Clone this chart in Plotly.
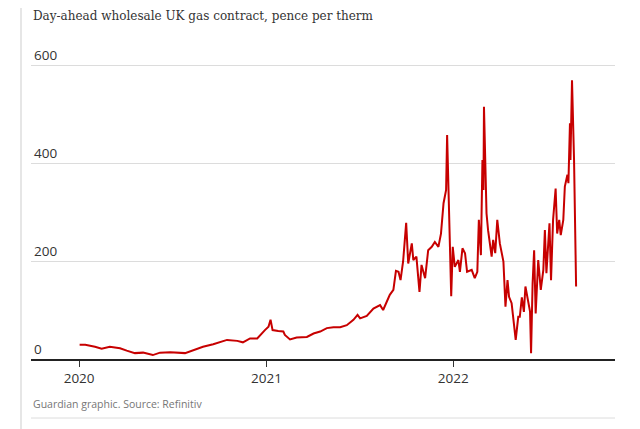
import plotly.graph_objects as go

dates = [
    "2020-01-02", "2020-01-13", "2020-02-01", "2020-02-14", "2020-03-01", "2020-03-21",
    "2020-04-03", "2020-04-19", "2020-05-05", "2020-05-24", "2020-06-07", "2020-06-27",
    "2020-07-26", "2020-08-11", "2020-08-30", "2020-09-19", "2020-10-16", "2020-11-05",
    "2020-11-16", "2020-11-30", "2020-12-14", "2020-12-29", "2021-01-05", "2021-01-09",
    "2021-01-13", "2021-01-24", "2021-02-03", "2021-02-06", "2021-02-16", "2021-03-01",
    "2021-03-21", "2021-04-03", "2021-04-16", "2021-04-29", "2021-05-12", "2021-05-25",
    "2021-06-07", "2021-06-20", "2021-06-28", "2021-07-03", "2021-07-16", "2021-07-29",
    "2021-08-11", "2021-08-17", "2021-08-24", "2021-08-30", "2021-09-06", "2021-09-11",
    "2021-09-16", "2021-09-20", "2021-09-25", "2021-10-01", "2021-10-05", "2021-10-12",
    "2021-10-15", "2021-10-21", "2021-10-27", "2021-10-31", "2021-11-07", "2021-11-13",
    "2021-11-20", "2021-11-26", "2021-12-03", "2021-12-08", "2021-12-13", "2021-12-18",
    "2021-12-20", "2021-12-23", "2021-12-28", "2021-12-31", "2022-01-04", "2022-01-11",
    "2022-01-14", "2022-01-19", "2022-01-24", "2022-01-28", "2022-02-06", "2022-02-12",
    "2022-02-17", "2022-02-20", "2022-02-24", "2022-02-27", "2022-03-01", "2022-03-02",
    "2022-03-05", "2022-03-07", "2022-03-10", "2022-03-17", "2022-03-20", "2022-03-24",
    "2022-03-28", "2022-04-02", "2022-04-09", "2022-04-13", "2022-04-17", "2022-04-20",
    "2022-04-25", "2022-04-28", "2022-05-03", "2022-05-08", "2022-05-11", "2022-05-15",
    "2022-05-19", "2022-05-22", "2022-05-27", "2022-05-31", "2022-06-02", "2022-06-05",
    "2022-06-08", "2022-06-11", "2022-06-16", "2022-06-21", "2022-06-26", "2022-06-29",
    "2022-07-02", "2022-07-08", "2022-07-11", "2022-07-15", "2022-07-20", "2022-07-23",
    "2022-07-27", "2022-07-30", "2022-08-04", "2022-08-07", "2022-08-12", "2022-08-14",
    "2022-08-17", "2022-08-18", "2022-08-21", "2022-08-25", "2022-08-29",
]

price = [
    29, 29, 25, 21, 25, 22,
    17, 12, 13, 8, 13, 14,
    12, 18, 25, 30, 39, 37,
    34, 42, 42, 59, 66, 80,
    59, 57, 56, 49, 40, 44,
    45, 52, 56, 63, 65, 65,
    69, 80, 90, 83, 88, 103,
    110, 100, 117, 131, 141, 180,
    178, 161, 199, 278, 195, 236,
    202, 209, 137, 192, 165, 222,
    229, 239, 229, 256, 318, 345,
    457, 345, 128, 229, 188, 202,
    178, 226, 216, 178, 182, 165,
    178, 284, 212, 406, 345, 515,
    365, 297, 263, 209, 243, 216,
    284, 236, 199, 107, 161, 127,
    114, 86, 39, 86, 86, 126,
    96, 148, 120, 97, 12, 154,
    222, 93, 202, 141, 182, 263,
    175, 277, 161, 284, 348, 256,
    284, 253, 284, 352, 376, 359,
    481, 406, 569, 406, 148,
]

year_ticks = ["2020-01-01", "2021-01-01", "2022-01-01"]
year_labels = ["2020", "2021", "2022"]
y_ticks = [0, 200, 400, 600]

title_text = "Day-ahead wholesale UK gas contract, pence per therm"
source_text = "Guardian graphic. Source: Refinitiv"

# page has an 8px body margin; figure is sized to fill the rest
W, H = 632, 421
ML, MR, MT, MB = 23, 25, 35, 70
PW = W - ML - MR
PH = H - MT - MB

fig = go.Figure()
fig.add_trace(go.Scatter(
    x=dates, y=price, mode="lines",
    line=dict(color="#c70000", width=2),
    hoverinfo="x+y", showlegend=False,
))

fig.update_layout(
    width=W, height=H,
    margin=dict(l=ML, r=MR, t=MT, b=MB),
    paper_bgcolor="white", plot_bgcolor="white",
    font=dict(family="Open Sans, Liberation Sans, sans-serif", color="#333333", size=13),
    xaxis=dict(
        type="date",
        range=["2019-09-29", "2022-11-13"],
        tickvals=year_ticks, ticktext=year_labels,
        ticks="outside", ticklen=6, tickwidth=1, tickcolor="#333333",
        showline=True, linecolor="#222222", linewidth=2,
        showgrid=False, zeroline=False,
        tickfont=dict(size=13.5, color="#333333"),
    ),
    yaxis=dict(
        range=[0, 645],
        tickvals=y_ticks,
        ticklabelposition="inside top",
        showgrid=True, gridcolor="#dcdcdc", gridwidth=1,
        zeroline=False, showline=False, ticks="",
        tickfont=dict(size=13.5, color="#333333"),
    ),
)

fig.add_annotation(
    text=title_text, xref="paper", yref="paper",
    x=0, y=1.0 + (MT - 8) / PH, xanchor="left", yanchor="middle",
    showarrow=False,
    font=dict(family="DejaVu Serif, serif", size=12, color="#333333"),
)
fig.add_annotation(
    text=source_text, xref="paper", yref="paper",
    x=0, y=-(396 - 351) / PH, xanchor="left", yanchor="middle",
    showarrow=False,
    font=dict(family="Open Sans, sans-serif", size=10.5, color="#767676"),
)
# bottom separator and left border
fig.add_shape(type="line", xref="paper", yref="paper",
              x0=0, x1=1, y0=-(410 - 351) / PH, y1=-(410 - 351) / PH,
              line=dict(color="#dcdcdc", width=1))
fig.add_shape(type="line", xref="paper", yref="paper",
              x0=-10 / PW, x1=-10 / PW, y0=-MB / PH, y1=1 + MT / PH,
              line=dict(color="#e6e6e6", width=2))

fig.write_html("out.html")
